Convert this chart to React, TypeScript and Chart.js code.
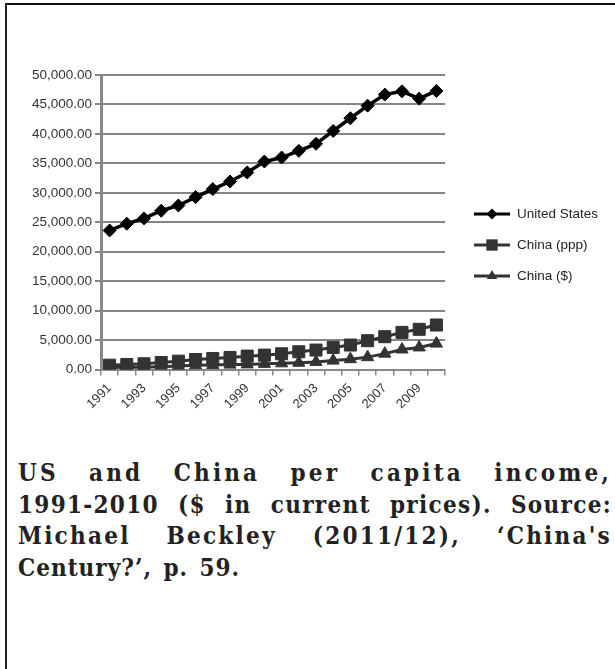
import React, { useEffect, useLayoutEffect, useRef } from "react";
import { Chart, registerables } from "chart.js";

Chart.register(...registerables);

const years = ["1991","1992","1993","1994","1995","1996","1997","1998","1999","2000","2001","2002","2003","2004","2005","2006","2007","2008","2009","2010"];
const unitedStates = [23610,24750,25650,26950,27850,29270,30630,31920,33450,35310,35990,37120,38310,40510,42660,44800,46670,47230,45990,47290];
const chinaPpp = [740,850,970,1190,1420,1700,1870,2050,2270,2440,2670,3010,3300,3750,4150,4890,5570,6300,6820,7550];
const chinaUsd = [330,370,380,470,610,710,780,830,870,960,1050,1150,1290,1510,1750,2100,2690,3400,3750,4400];
const yTicks = [0,5000,10000,15000,20000,25000,30000,35000,40000,45000,50000];
const captionLines = [
  "US and China per capita income,",
  "1991-2010 ($ in current prices). Source:",
  "Michael Beckley (2011/12), ‘China's",
  "Century?’, p. 59.",
];

const SANS = "'Liberation Sans', Arial, Helvetica, sans-serif";
const CAPTION_WIDTH = 594;

function drawMarker(ctx: CanvasRenderingContext2D, style: string, r: number, x: number, y: number) {
  ctx.beginPath();
  if (style === "rectRot") {
    ctx.moveTo(x, y - r); ctx.lineTo(x + r, y); ctx.lineTo(x, y + r); ctx.lineTo(x - r, y);
  } else if (style === "rect") {
    const s = r * Math.SQRT1_2;
    ctx.rect(x - s, y - s, 2 * s, 2 * s);
  } else {
    ctx.moveTo(x, y - r);
    ctx.lineTo(x + r * Math.sin(Math.PI / 3), y + r / 2);
    ctx.lineTo(x - r * Math.sin(Math.PI / 3), y + r / 2);
  }
  ctx.closePath();
  ctx.fill();
}

const legendPlugin = {
  id: "lineLegend",
  afterDraw(chart: any) {
    const { ctx, chartArea } = chart;
    const x0 = chartArea.right + 29;
    const lineLen = 36;
    const yStart = chartArea.top + 139;
    const gap = 31;
    chart.data.datasets.forEach((ds: any, i: number) => {
      const y = yStart + i * gap;
      ctx.save();
      ctx.strokeStyle = ds.borderColor;
      ctx.lineWidth = 3;
      ctx.beginPath();
      ctx.moveTo(x0, y);
      ctx.lineTo(x0 + lineLen, y);
      ctx.stroke();
      ctx.fillStyle = ds.pointBackgroundColor;
      const style = ds.pointStyle;
      const r = style === "rect" ? 8 : style === "rectRot" ? 5.5 : 6;
      drawMarker(ctx, style, r, x0 + lineLen / 2, y);
      ctx.fillStyle = "#222";
      ctx.font = "13.5px " + SANS;
      ctx.textBaseline = "middle";
      ctx.textAlign = "left";
      ctx.fillText(ds.label, x0 + lineLen + 7, y);
      ctx.restore();
    });
  },
};

export default function App() {
  const ref = useRef<HTMLCanvasElement | null>(null);
  const lineRefs = useRef<(HTMLSpanElement | null)[]>([]);

  useLayoutEffect(() => {
    lineRefs.current.forEach((span, i) => {
      if (!span) return;
      span.style.letterSpacing = "0px";
      span.style.wordSpacing = "0px";
      const text = captionLines[i];
      if (i === captionLines.length - 1) {
        span.style.letterSpacing = "1px";
        span.style.wordSpacing = "3px";
        return;
      }
      const natural = span.getBoundingClientRect().width;
      const extra = CAPTION_WIDTH - natural;
      const nChars = text.length;
      const nSpaces = (text.match(/ /g) || []).length;
      const ls = (extra * 0.5) / nChars;
      const ws = nSpaces > 0 ? (extra * 0.5) / nSpaces : 0;
      span.style.letterSpacing = ls + "px";
      span.style.wordSpacing = ws + "px";
    });
  }, []);

  useEffect(() => {
    if (!ref.current) return;
    const chart = new Chart(ref.current, {
      type: "line",
      data: {
        labels: years,
        datasets: [
          {
            label: "United States",
            data: unitedStates,
            borderColor: "#000",
            borderWidth: 3.5,
            pointStyle: "rectRot",
            pointRadius: 6.5,
            pointBackgroundColor: "#000",
            pointBorderColor: "#000",
            pointBorderWidth: 1,
          },
          {
            label: "China (ppp)",
            data: chinaPpp,
            borderColor: "#333",
            borderWidth: 3,
            pointStyle: "rect",
            pointRadius: 8.5,
            pointBackgroundColor: "#333",
            pointBorderColor: "#333",
            pointBorderWidth: 1,
          },
          {
            label: "China ($)",
            data: chinaUsd,
            borderColor: "#333",
            borderWidth: 3,
            pointStyle: "triangle",
            pointRadius: 7,
            pointBackgroundColor: "#333",
            pointBorderColor: "#333",
            pointBorderWidth: 1,
          },
        ],
      },
      options: {
        animation: false,
        responsive: false,
        layout: { padding: { left: 0, top: 75, right: 170, bottom: 0 } },
        plugins: { legend: { display: false }, tooltip: { enabled: false }, title: { display: false } },
        scales: {
          x: {
            type: "category",
            offset: true,
            grid: { offset: true, drawOnChartArea: false, drawTicks: true, tickLength: 6, color: "#888", lineWidth: 1.5 },
            border: { color: "#888", width: 2 },
            ticks: {
              autoSkip: false,
              maxRotation: 45,
              minRotation: 45,
              padding: 5,
              color: "#333",
              font: { family: SANS, size: 13 },
              callback: (_v: any, i: number) => (i % 2 === 0 ? years[i] : ""),
            },
            afterFit: (scale: any) => { scale.height = 70.5; },
          },
          y: {
            min: 0,
            max: 50000,
            afterBuildTicks: (scale: any) => { scale.ticks = yTicks.map((v) => ({ value: v })); },
            grid: { color: "#858585", lineWidth: 2, tickLength: 6 },
            border: { color: "#888", width: 3 },
            ticks: {
              padding: 3,
              color: "#333",
              font: { family: SANS, size: 13.5 },
              callback: (v: any) => Number(v).toLocaleString("en-US", { minimumFractionDigits: 2, maximumFractionDigits: 2 }),
            },
            afterFit: (scale: any) => { scale.width = 101; },
          },
        },
      },
      plugins: [legendPlugin],
    });
    return () => chart.destroy();
  }, []);

  return (
    <div style={{ position: "absolute", left: 0, top: 0, width: 615, height: 669, background: "#fff", overflow: "hidden" }}>
      <div style={{ position: "absolute", left: 5, top: 3, width: 610, height: 2, background: "#111" }} />
      <div style={{ position: "absolute", left: 5, top: 3, width: 2, height: 666, background: "#222" }} />
      <canvas ref={ref} width={615} height={440} style={{ position: "absolute", left: 0, top: 0, width: 615, height: 440 }} />
      <div
        style={{
          position: "absolute",
          left: 18,
          top: 457,
          width: CAPTION_WIDTH + 20,
          fontFamily: "'DejaVu Serif Condensed', 'DejaVu Serif', serif",
          fontStretch: "condensed",
          fontWeight: "bold",
          fontSize: 24,
          lineHeight: "31.5px",
          color: "#222",
        }}
      >
        {captionLines.map((line, i) => (
          <div key={i} style={{ whiteSpace: "nowrap" }}>
            <span ref={(el) => { lineRefs.current[i] = el; }} style={{ whiteSpace: "nowrap" }}>
              {line}
            </span>
          </div>
        ))}
      </div>
    </div>
  );
}
